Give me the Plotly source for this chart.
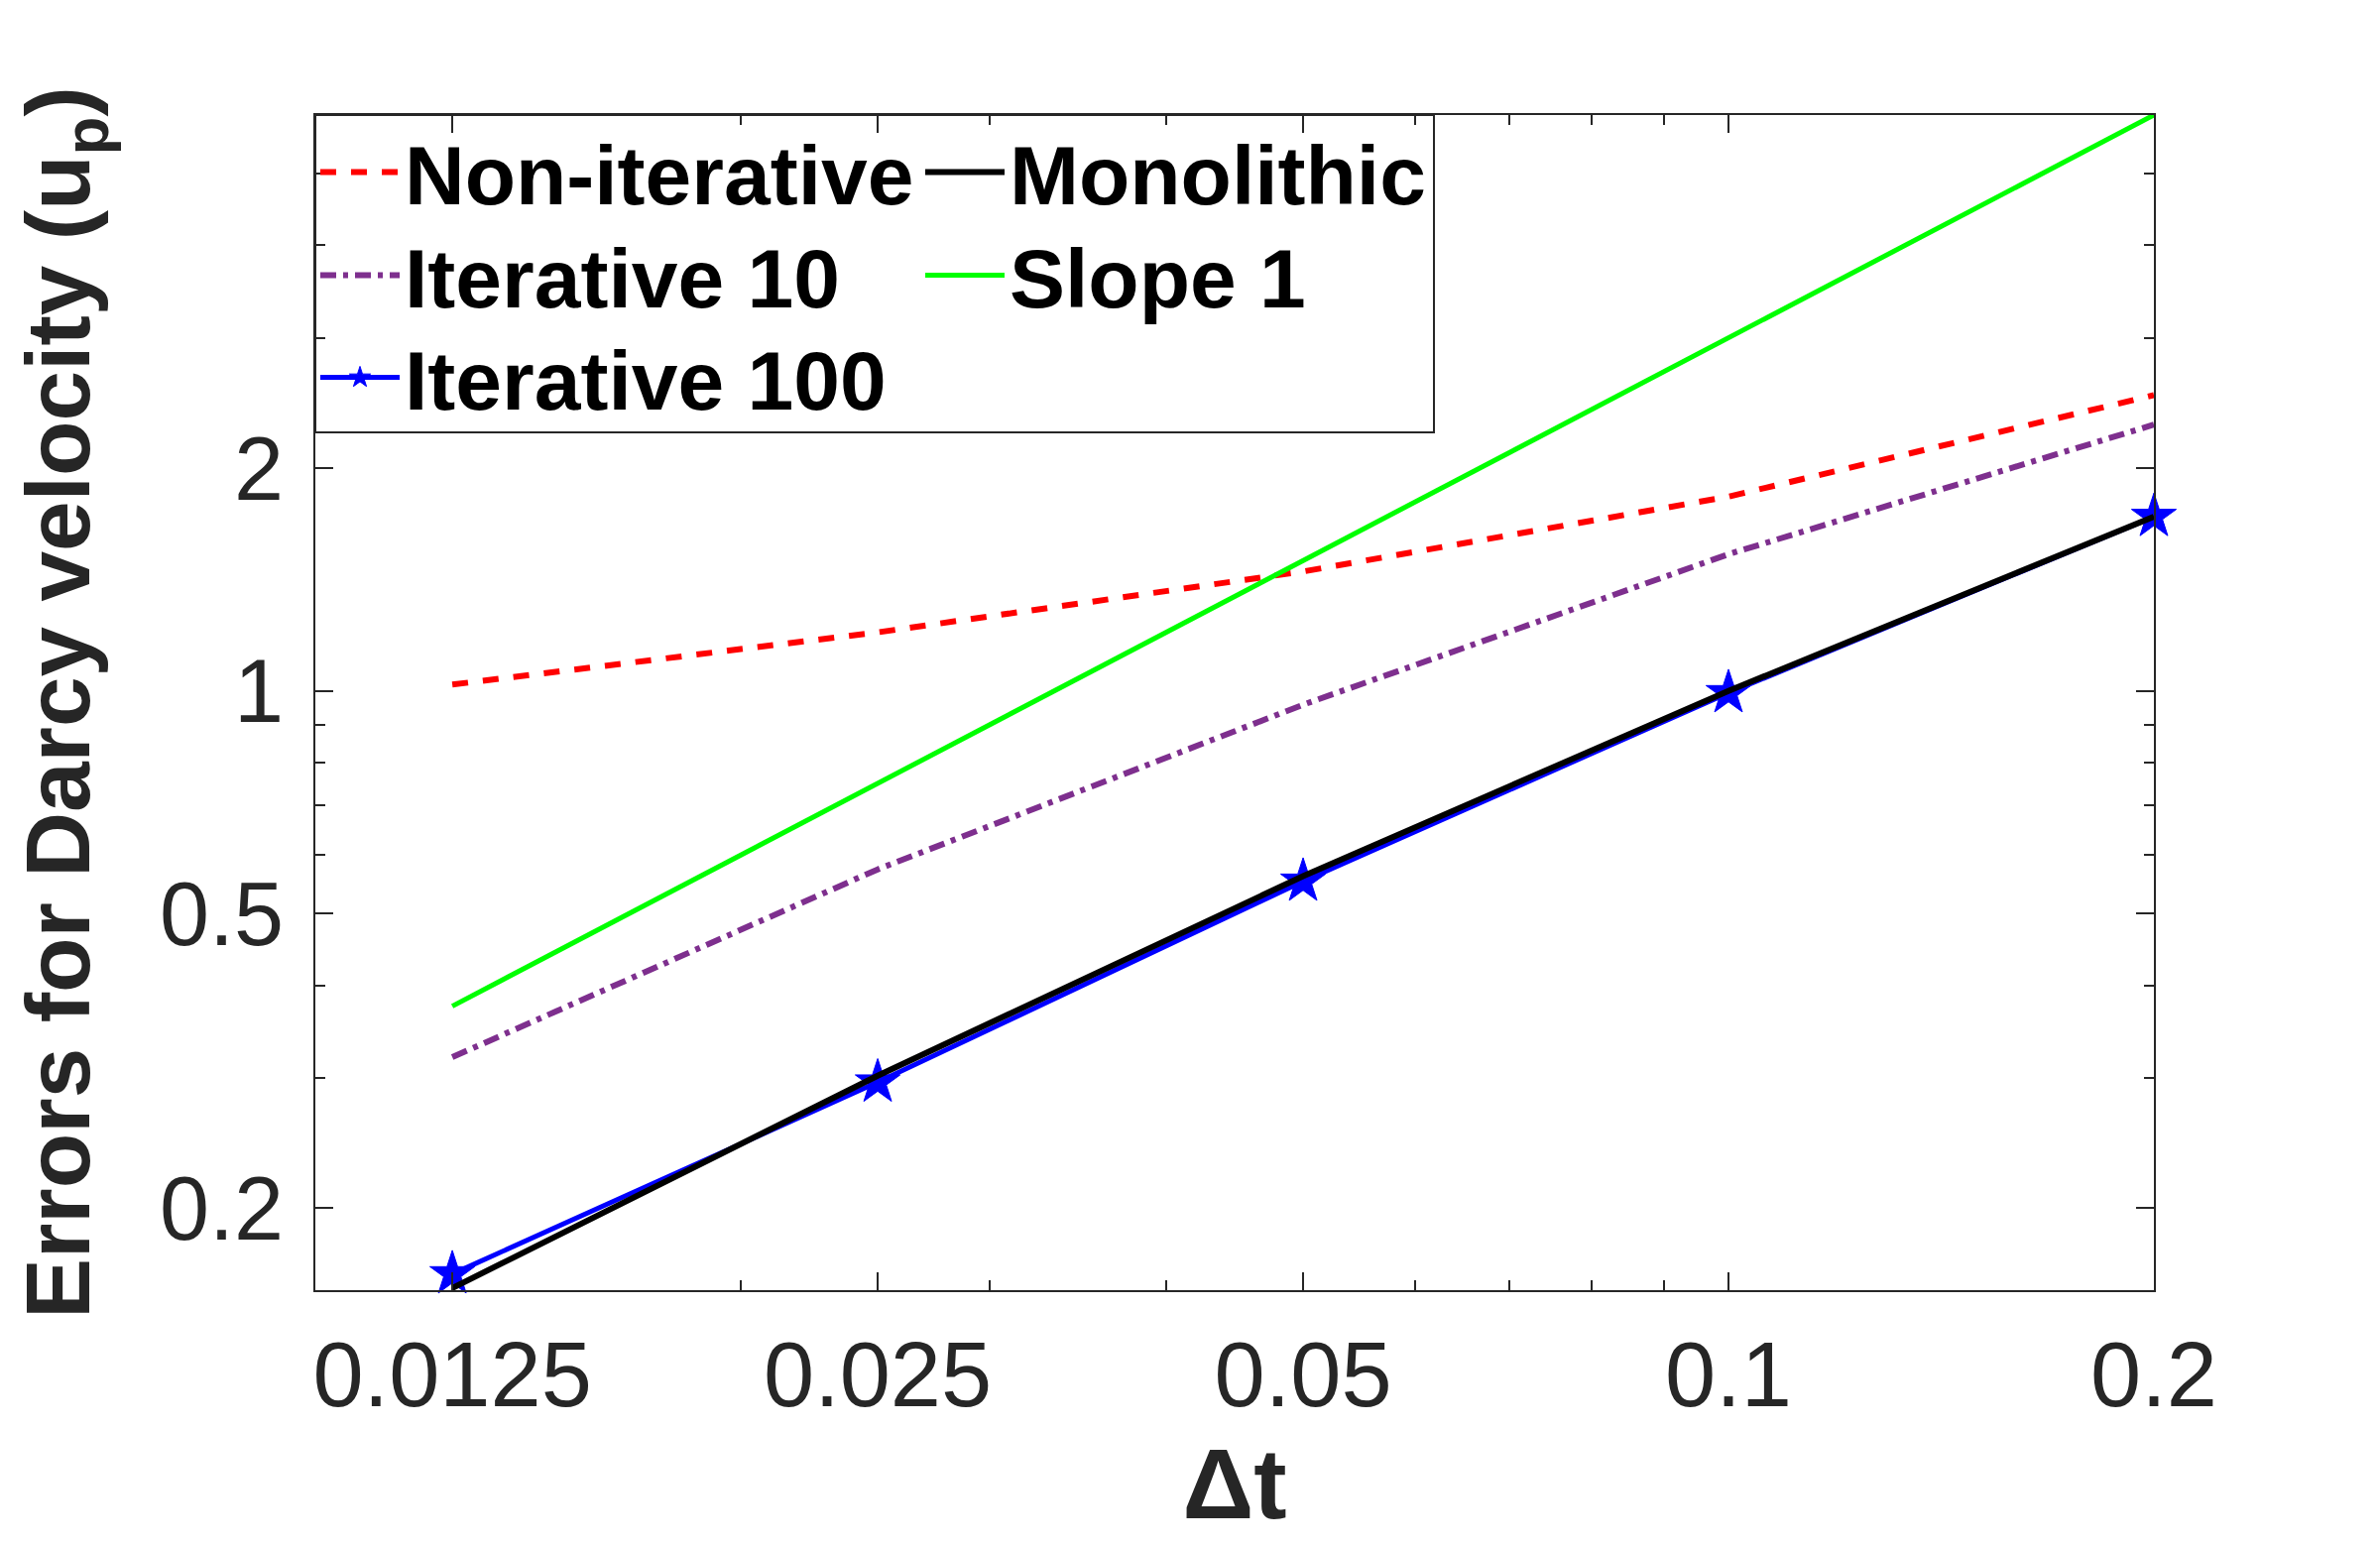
import plotly.graph_objects as go

# ---- data ----
dt = [0.0125, 0.025, 0.05, 0.1, 0.2]
non_iterative = [1.02, 1.20, 1.45, 1.83, 2.51]
iterative_10 = [0.320, 0.574, 0.958, 1.53, 2.29]
iterative_100 = [0.163, 0.296, 0.553, 0.994, 1.72]
monolithic = [0.156, 0.302, 0.562, 1.00, 1.72]
slope_1 = [0.375, 0.75, 1.5, 3.0, 6.0]

x_tickvals = [0.0125, 0.025, 0.05, 0.1, 0.2]
x_ticktext = ["0.0125", "0.025", "0.05", "0.1", "0.2"]
x_minor = [0.02, 0.03, 0.04, 0.06, 0.07, 0.08, 0.09]
y_tickvals = [0.2, 0.5, 1, 2]
y_ticktext = ["0.2", "0.5", "1", "2"]
y_minor = [0.3, 0.4, 0.6, 0.7, 0.8, 0.9, 3, 4, 5]

AX = "#262626"
FONT = "Liberation Sans, Arial, sans-serif"

fig = go.Figure()
fig.add_trace(go.Scatter(x=dt, y=non_iterative, mode="lines", name="Non-iterative",
                         line=dict(color="#FF0000", width=6, dash="16px,15px"), legend="legend"))
fig.add_trace(go.Scatter(x=dt, y=iterative_10, mode="lines", name="Iterative 10",
                         line=dict(color="#7E2F8E", width=6, dash="16px,7px,5px,7px"), legend="legend2"))
fig.add_trace(go.Scatter(x=dt, y=slope_1, mode="lines", name="Slope 1",
                         line=dict(color="#00FF00", width=5), legend="legend2"))
fig.add_trace(go.Scatter(x=dt, y=iterative_100, mode="lines+markers", name="Iterative 100",
                         line=dict(color="#0000FF", width=5), cliponaxis=False,
                         marker=dict(symbol="star", size=34, color="#0000FF",
                                     line=dict(color="#0000FF", width=1)), legend="legend3"))
fig.add_trace(go.Scatter(x=dt, y=monolithic, mode="lines", name="Monolithic",
                         line=dict(color="#000000", width=6), legend="legend"))

W, H = 2384, 1544
ml, mr, mt, mb = 310, 220, 108, 251
pw = W - ml - mr
ph = H - mt - mb

legend_font = dict(family=FONT, size=84, color="#000000", weight="bold")
row_y = [166, 270, 373]  # row centres in figure px


def leg(yc):
    return dict(x=0, y=(H - mb - yc) / ph, xanchor="left", yanchor="middle",
                orientation="h", font=legend_font, bgcolor="rgba(0,0,0,0)",
                borderwidth=0, itemwidth=80, entrywidth=515, entrywidthmode="pixels",
                tracegroupgap=0, traceorder="normal")


fig.update_layout(
    width=W, height=H,
    margin=dict(l=ml, r=mr, t=mt, b=mb, autoexpand=False),
    paper_bgcolor="white", plot_bgcolor="white",
    showlegend=True,
    legend=leg(row_y[0]),
    legend2=leg(row_y[1]),
    legend3=leg(row_y[2]),
    shapes=[dict(type="rect", xref="paper", yref="paper",
                 x0=0, x1=1128 / pw, y0=(ph - 320) / ph, y1=1,
                 line=dict(color=AX, width=2), fillcolor="rgba(0,0,0,0)", layer="above")],
)

fig.update_xaxes(
    type="log", range=[-2, -0.69897],
    tickvals=x_tickvals, ticktext=x_ticktext,
    ticks="inside", ticklen=18, tickwidth=2, tickcolor=AX,
    minor=dict(tickvals=x_minor, ticks="inside", ticklen=10, tickwidth=2, tickcolor=AX, showgrid=False),
    showline=True, linecolor=AX, linewidth=2, mirror="ticks",
    showgrid=False, zeroline=False,
    tickfont=dict(family=FONT, size=92, color=AX),
    ticklabelstandoff=5,
    title=dict(text="<b>Δt</b>", font=dict(family=FONT, size=100, color=AX), standoff=68),
)
fig.update_yaxes(
    type="log", range=[-0.8097, 0.77815],
    tickvals=y_tickvals, ticktext=y_ticktext,
    ticks="inside", ticklen=18, tickwidth=2, tickcolor=AX,
    minor=dict(tickvals=y_minor, ticks="inside", ticklen=10, tickwidth=2, tickcolor=AX, showgrid=False),
    showline=True, linecolor=AX, linewidth=2, mirror="ticks",
    showgrid=False, zeroline=False,
    tickfont=dict(family=FONT, size=90, color=AX),
    ticklabelstandoff=12,
    title=dict(text="<b>Errors for Darcy velocity (u<sub>p</sub>)</b>",
               font=dict(family=FONT, size=91, color=AX), standoff=44),
)

fig.write_html("out.html")
